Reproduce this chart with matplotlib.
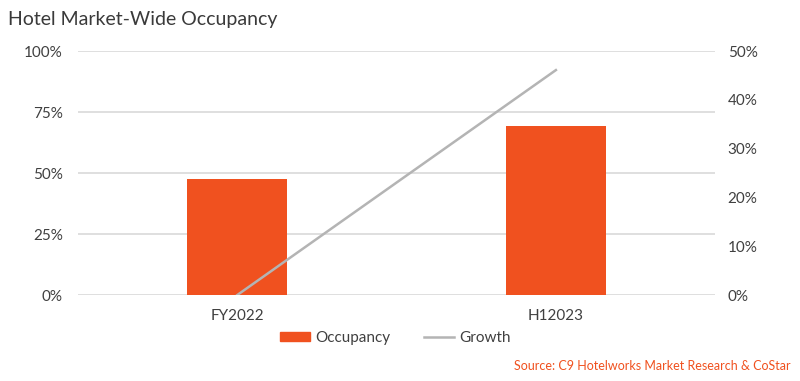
import matplotlib
matplotlib.use("Agg")
import matplotlib.pyplot as plt
from matplotlib.ticker import FuncFormatter
from matplotlib.patches import Patch
from matplotlib.lines import Line2D

categories = ["FY2022", "H12023"]
occupancy = [47.5, 69.3]
growth = [0.0, 46.1]
left_ticks = [0, 25, 50, 75, 100]
right_ticks = [0, 10, 20, 30, 40, 50]

plt.rcParams['font.family'] = ['Lato', 'DejaVu Sans']
text_color = "#404040"
bar_color = "#F0511F"
line_color = "#B4B4B4"
grid_color = "#D9D9D9"

fig = plt.figure(figsize=(8, 3.81), dpi=100)
ax = fig.add_axes([0.0975, 0.2257, 0.7965, 0.6403])
x = list(range(len(categories)))
ax.bar(x, occupancy, width=0.314, color=bar_color, zorder=2)
ax.set_xlim(-0.5, 1.5)
ax.set_ylim(0, 100)
ax.set_yticks(left_ticks)
ax.yaxis.set_major_formatter(FuncFormatter(lambda v, p: f"{v:.0f}%"))
ax.set_xticks(x)
ax.set_xticklabels(categories)
ax.grid(axis='y', color=grid_color, linewidth=1.2, zorder=0)
for s in ax.spines.values():
    s.set_visible(False)
ax.tick_params(axis='both', length=0, colors=text_color, labelsize=11)
ax.tick_params(axis='y', pad=11)
ax.tick_params(axis='x', pad=10)

ax2 = ax.twinx()
ax2.plot(x, growth, color=line_color, linewidth=1.8, zorder=3)
ax2.set_ylim(0, 50)
ax2.set_yticks(right_ticks)
ax2.yaxis.set_major_formatter(FuncFormatter(lambda v, p: f"{v:.0f}%"))
for s in ax2.spines.values():
    s.set_visible(False)
ax2.tick_params(axis='y', length=0, colors=text_color, labelsize=11, pad=9)

fig.text(0.01, 0.95, "Hotel Market-Wide Occupancy", fontsize=14, color="#3a3a3a",
         ha='left', va='center')

handles = [Patch(facecolor=bar_color, edgecolor=bar_color),
           Line2D([0], [0], color=line_color, linewidth=1.8)]
fig.legend(handles, ["Occupancy", "Growth"], loc='center', bbox_to_anchor=(0.494, 0.113),
           ncol=2, frameon=False, fontsize=11, labelcolor=text_color,
           handlelength=2.0, handleheight=0.55, handletextpad=0.3, columnspacing=2.2)

fig.text(0.988, 0.04, "Source: C9 Hotelworks Market Research & CoStar", fontsize=9,
         color=bar_color, ha='right', va='center')

fig.savefig("out.png", dpi=100)
